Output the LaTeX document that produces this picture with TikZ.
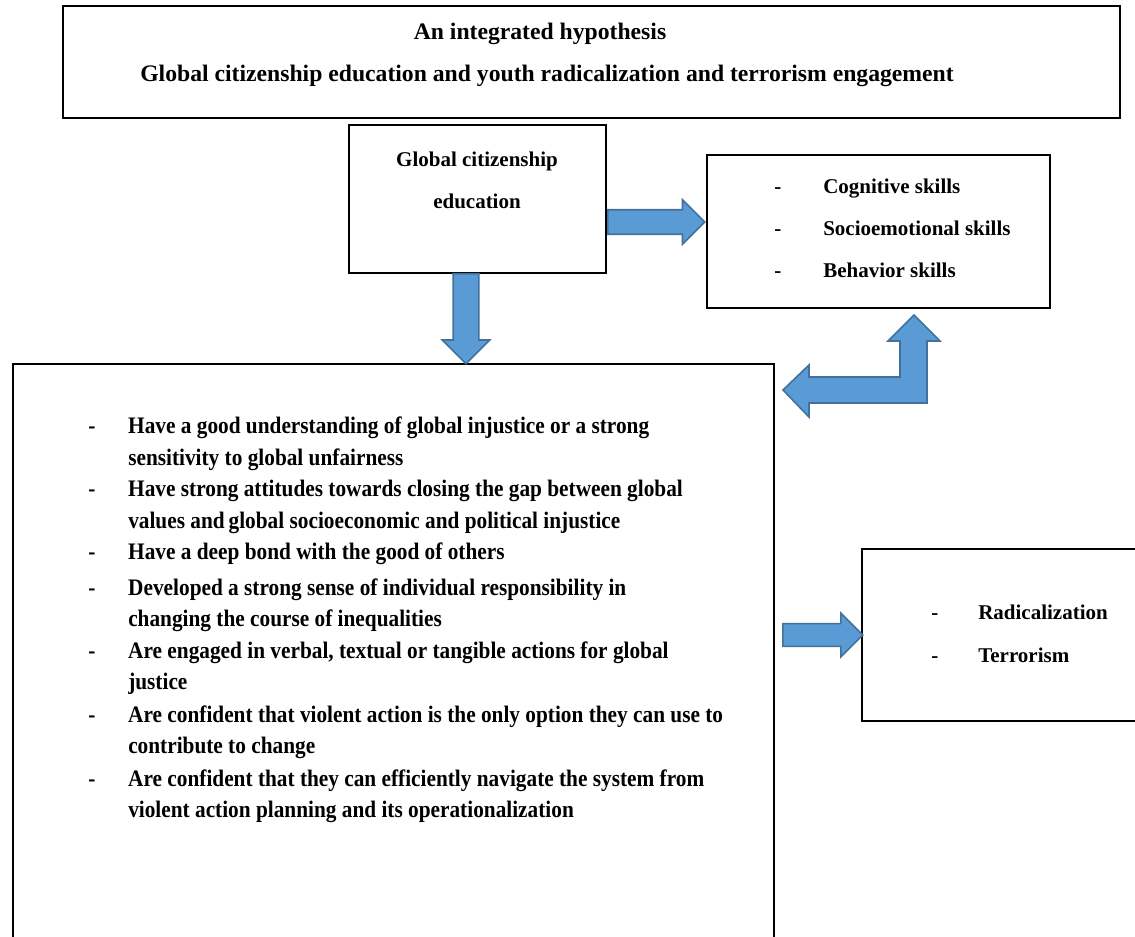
\documentclass[tikz,border=0pt]{standalone}
\usepackage{fontspec}
\setmainfont{Liberation Serif}
\newfontfamily\narrowfont{Liberation Serif}[FakeStretch=0.9]
\usepackage{tikz}
\usetikzlibrary{shapes.arrows, positioning, calc}
\definecolor{arrfill}{HTML}{5B9BD5}
\definecolor{arrdraw}{HTML}{41719C}
\tikzset{
  box/.style={
    draw, line width=1.7pt, anchor=north west,
    inner sep=0pt
  },
  txt/.style={font=\fontsize{17.75}{20}\selectfont\bfseries, inner sep=0pt},
  skl/.style={font=\fontsize{15.75}{31.5}\selectfont\bfseries, inner sep=0pt, anchor=base west},
  lst/.style={font=\fontsize{17.75}{23.6}\selectfont\bfseries\narrowfont, inner sep=0pt, anchor=base west},
  barrow/.style={
    single arrow, draw=arrdraw, fill=arrfill, line width=1.2pt,
    single arrow head extend=#1, inner sep=0pt,
    single arrow tip angle=90, anchor=tail
  },
  bentarrow/.style={draw=arrdraw, fill=arrfill, line width=1.2pt}
}

\begin{document}
\begin{tikzpicture}[x=0.75pt, y=-0.75pt]
  \useasboundingbox (0,0) rectangle (1135,937);
  \clip (0,0) rectangle (1135,937);

  % boxes
  \node[box, minimum width=792.75pt, minimum height=84pt]     (hyp)    at (62,5)    {};
  \node[box, minimum width=192.75pt, minimum height=111pt]    (gce)    at (348,124) {};
  \node[box, minimum width=257.25pt, minimum height=114.75pt] (skill)  at (706,154) {};
  \node[box, minimum width=570.75pt, minimum height=450pt]    (traits) at (12,363)  {};
  \node[box, minimum width=225pt, minimum height=129pt]       (out)    at (861,548) {};

  % texts
  \node[txt, anchor=base] (hyp1) at (540,40) {An integrated hypothesis};
  \node[txt, anchor=base] (hyp2) at (547,82)
        {Global citizenship education and youth radicalization and terrorism engagement};

  \node[skl, anchor=base] (gcetxt) at (477,167)
        {\begin{tabular}[t]{@{}c@{}}Global citizenship\\ education\end{tabular}};

  \node[skl] (skilltxt) at (774,194)
        {\begin{tabular}[t]{@{}p{36.75pt}@{}l@{}}
          - & Cognitive skills\\
          - & Socioemotional skills\\
          - & Behavior skills
         \end{tabular}};

  \node[skl, font=\fontsize{15.75}{32.25}\selectfont\bfseries] (outtxt) at (931,619)
        {\begin{tabular}[t]{@{}p{35.25pt}@{}l@{}}
          - & Radicalization\\
          - & Terrorism
         \end{tabular}};

  \node[lst] (it1) at (88,434)
        {\begin{tabular}[t]{@{}p{30pt}@{}l@{}}
          - & Have a good understanding of global injustice or a strong\\
            & sensitivity to global unfairness
         \end{tabular}};
  \node[lst] (it2) at (88,497)
        {\begin{tabular}[t]{@{}p{30pt}@{}l@{}}
          - & Have strong attitudes towards closing the gap between global\\
            & values and\,global socioeconomic and political injustice
         \end{tabular}};
  \node[lst] (it3) at (88,560)
        {\begin{tabular}[t]{@{}p{30pt}@{}l@{}}
          - & Have a deep bond with the good of others
         \end{tabular}};
  \node[lst] (it4) at (88,595)
        {\begin{tabular}[t]{@{}p{30pt}@{}l@{}}
          - & Developed a strong sense of individual responsibility in\\
            & changing the course of inequalities
         \end{tabular}};
  \node[lst] (it5) at (88,658)
        {\begin{tabular}[t]{@{}p{30pt}@{}l@{}}
          - & Are engaged in verbal, textual or tangible actions for global\\
            & justice
         \end{tabular}};
  \node[lst] (it6) at (88,722)
        {\begin{tabular}[t]{@{}p{30pt}@{}l@{}}
          - & Are confident that violent action is the only option they can use to\\
            & contribute to change
         \end{tabular}};
  \node[lst] (it7) at (88,786)
        {\begin{tabular}[t]{@{}p{30pt}@{}l@{}}
          - & Are confident that they can efficiently navigate the system from\\
            & violent action planning and its operationalization
         \end{tabular}};

  % block arrows
  \node[barrow=7.5pt, minimum height=72.75pt, minimum width=32.25pt,
        text height=8.6pt, text depth=8.6pt] (a1) at (607,222) {};
  \node[barrow=8.25pt, minimum height=67.5pt, minimum width=34.5pt,
        text height=9pt, text depth=9pt, rotate=-90] (a2) at (466,273) {};
  \node[barrow=7.9pt, minimum height=60pt, minimum width=31.5pt,
        text height=7.9pt, text depth=7.9pt] (a3) at (782,635) {};

  \draw[bentarrow] (783,390) -- (809,365) -- (809,377) -- (900,377) -- (900,341)
    -- (888,341) -- (914,315) -- (940,341) -- (927,341) -- (927,403)
    -- (809,403) -- (809,417) -- cycle;

\end{tikzpicture}
\end{document}
